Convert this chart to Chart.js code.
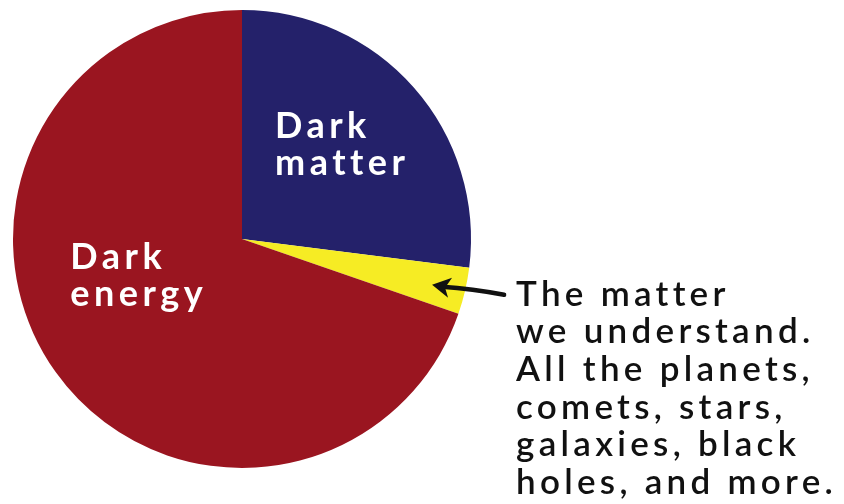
<!DOCTYPE html>
<html>
<head>
<meta charset="utf-8">
<script src="https://cdn.jsdelivr.net/npm/chart.js@4/dist/chart.umd.min.js"></script>
<style>
  html, body { margin: 0; padding: 0; background: #fff; }
  #wrap { width: 844px; height: 504px; }
</style>
</head>
<body>
<div id="wrap"><canvas id="pie"></canvas></div>
<script>
// slices, clockwise from 12 o'clock (percent of the universe)
const labels = ['Dark matter', 'The matter we understand', 'Dark energy'];
const shares = [27, 3.3, 69.7];
const colors = ['#24216a', '#f6ec24', '#9a1520'];

// text drawn on / next to the pie
const sliceText = [['Dark', 'matter'], null, ['Dark', 'energy']];
const noteLines = ['The matter', 'we understand.', 'All the planets,', 'comets, stars,', 'galaxies, black', 'holes, and more.'];

const textPlugin = {
  id: 'pieText',
  afterDatasetsDraw(chart) {
    const ctx = chart.ctx;
    const arcs = chart.getDatasetMeta(0).data;
    const cx = arcs[0].x, cy = arcs[0].y, r = arcs[0].outerRadius;
    ctx.save();
    ctx.fillStyle = '#fff';
    ctx.textBaseline = 'alphabetic';
    ctx.textAlign = 'left';
    ctx.font = 'bold 36px Lato';
    ctx.letterSpacing = '4.5px';
    // label positions relative to center, in radius units
    const spots = [[0.144, -0.44], null, [-0.75, 0.13]];
    sliceText.forEach((lines, i) => {
      if (!lines) return;
      const x = cx + spots[i][0] * r, y = cy + spots[i][1] * r;
      lines.forEach((t, j) => ctx.fillText(t, x, y + j * 37));
    });

    // arrow pointing at the yellow slice
    const tipX = cx + r * 0.83, tipY = cy + r * 0.2;
    ctx.strokeStyle = '#111';
    ctx.fillStyle = '#111';
    ctx.lineWidth = 4.5;
    ctx.lineCap = 'round';
    ctx.beginPath();
    ctx.moveTo(tipX + 72, tipY + 10);
    ctx.quadraticCurveTo(tipX + 40, tipY + 4, tipX + 10, tipY + 2);
    ctx.stroke();
    ctx.beginPath();
    ctx.moveTo(tipX, tipY);
    ctx.lineTo(tipX + 20, tipY - 7);
    ctx.lineTo(tipX + 13, tipY + 3);
    ctx.lineTo(tipX + 16, tipY + 13);
    ctx.closePath();
    ctx.fill();

    // note text, spaced so the longest line spans the same width as the original
    ctx.fillStyle = '#111';
    ctx.font = '600 35px Lato';
    ctx.letterSpacing = '0px';
    const longest = noteLines[5];
    const sp = (321 - ctx.measureText(longest).width) / longest.length;
    ctx.letterSpacing = sp + 'px';
    const nx = tipX + 84, ny = tipY + 21;
    noteLines.forEach((t, j) => ctx.fillText(t, nx, ny + j * 37.6));
    ctx.restore();
  }
};

new Chart(document.getElementById('pie'), {
  type: 'pie',
  data: {
    labels: labels,
    datasets: [{
      data: shares,
      backgroundColor: colors,
      borderWidth: 0
    }]
  },
  options: {
    responsive: true,
    maintainAspectRatio: false,
    animation: false,
    layout: { padding: { left: 13, top: 10, right: 373, bottom: 36 } },
    plugins: {
      legend: { display: false },
      tooltip: { enabled: false }
    }
  },
  plugins: [textPlugin]
});
</script>
</body>
</html>
